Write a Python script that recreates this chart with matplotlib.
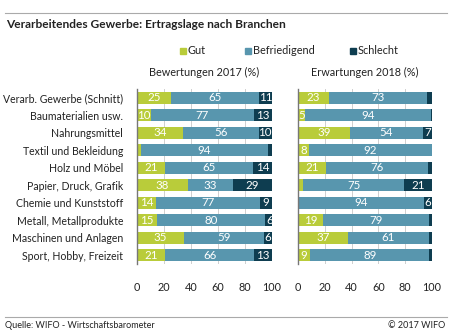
import matplotlib
matplotlib.use("Agg")
import matplotlib.pyplot as plt
from matplotlib.patches import Rectangle
from matplotlib.lines import Line2D

plt.rcParams['font.family'] = ['Lato', 'DejaVu Sans']

categories = ["Verarb. Gewerbe (Schnitt)", "Baumaterialien usw.", "Nahrungsmittel",
              "Textil und Bekleidung", "Holz und Möbel", "Papier, Druck, Grafik",
              "Chemie und Kunststoff", "Metall, Metallprodukte", "Maschinen und Anlagen",
              "Sport, Hobby, Freizeit"]
series_names = ["Gut", "Befriedigend", "Schlecht"]

gut_2017 = [25, 10, 34, 3, 21, 38, 14, 15, 35, 21]
bef_2017 = [65, 77, 56, 94, 65, 33, 77, 80, 59, 66]
sch_2017 = [11, 13, 10, 3, 14, 29, 9, 6, 6, 13]

gut_2018 = [23, 5, 39, 8, 21, 4, 0, 19, 37, 9]
bef_2018 = [73, 94, 54, 92, 76, 75, 94, 79, 61, 89]
sch_2018 = [4, 1, 7, 1, 3, 21, 6, 2, 2, 2]

xticks = [0, 20, 40, 60, 80, 100]
panel_titles = ["Bewertungen 2017 (%)", "Erwartungen 2018 (%)"]
title = "Verarbeitendes Gewerbe: Ertragslage nach Branchen"
source = "Quelle: WIFO - Wirtschaftsbarometer"
copyright_txt = "© 2017 WIFO"

colors = ["#b9cc3a", "#5896ae", "#0e3d50"]

W, H = 450, 333
fig = plt.figure(figsize=(W / 100, H / 100), dpi=100)

def fx(px):
    return px / W

def fy(py):
    return 1 - py / H

ax_bottom = fy(264)
ax_height = fy(89) - fy(264)
ax1 = fig.add_axes([fx(137), ax_bottom, fx(135), ax_height])
ax2 = fig.add_axes([fx(298), ax_bottom, fx(134), ax_height])

y = list(range(len(categories)))
for ax, data, ptitle in [(ax1, (gut_2017, bef_2017, sch_2017), panel_titles[0]),
                         (ax2, (gut_2018, bef_2018, sch_2018), panel_titles[1])]:
    left = [0] * len(categories)
    for vals, col in zip(data, colors):
        ax.barh(y, vals, left=left, height=0.7, color=col, zorder=3)
        for i, v in enumerate(vals):
            if v >= 5:
                ax.text(left[i] + v / 2, i, str(v), ha="center", va="center",
                        color="white", fontsize=8.3, zorder=4)
        left = [l + v for l, v in zip(left, vals)]
    ax.set_xlim(0, 100)
    ax.set_ylim(len(categories) - 0.5, -0.5)
    ax.set_xticks(xticks)
    ax.set_xticklabels([str(t) for t in xticks], fontsize=7.8, color="#222222")
    ax.tick_params(axis="x", length=0, pad=13)
    ax.tick_params(axis="y", length=0)
    ax.grid(axis="x", color="#cfcfcf", linewidth=0.7, zorder=0)
    for s in ["top", "right", "bottom"]:
        ax.spines[s].set_visible(False)
    ax.spines["left"].set_color("#777777")
    ax.spines["left"].set_linewidth(1.0)
    ax.spines["left"].set_zorder(5)
    ax.set_title(ptitle, fontsize=7.8, color="#222222", pad=9)

ax1.set_yticks(y)
ax1.set_yticklabels(categories, fontsize=7.6, color="#222222")
ax1.tick_params(axis="y", pad=10)
ax2.set_yticks(y)
ax2.set_yticklabels([])

# top and bottom rules
fig.add_artist(Line2D([fx(5), fx(447)], [fy(13), fy(13)], color="#aaaaaa", linewidth=0.8))
fig.add_artist(Line2D([fx(5), fx(447)], [fy(317), fy(317)], color="#aaaaaa", linewidth=0.8))

fig.text(fx(6), fy(24), title, fontsize=8.6, fontweight="bold", color="#222222",
         ha="left", va="center")

# legend
leg_x = [180, 245, 350]
for lx, name, col in zip(leg_x, series_names, colors):
    fig.add_artist(Rectangle((fx(lx), fy(54)), fx(6), fy(48) - fy(54), color=col,
                             transform=fig.transFigure))
    fig.text(fx(lx + 8), fy(51), name, fontsize=7.8, color="#222222", ha="left", va="center")

fig.text(fx(5), fy(325), source, fontsize=6.5, color="#222222", ha="left", va="center")
fig.text(fx(445), fy(325), copyright_txt, fontsize=6.5, color="#222222", ha="right", va="center")

fig.savefig("out.png", dpi=100, facecolor="white")
